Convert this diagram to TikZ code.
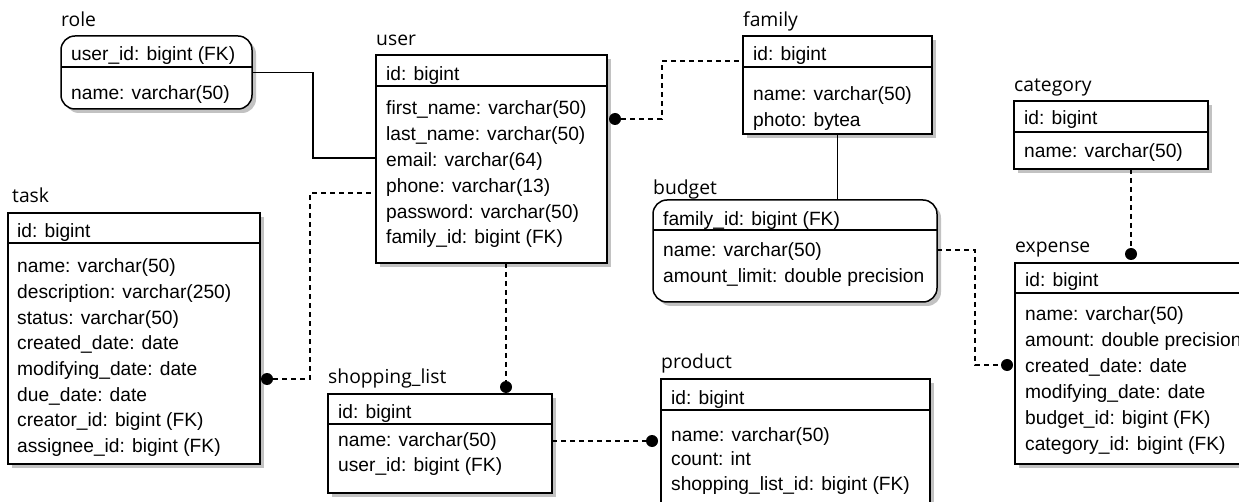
\documentclass[tikz,border=0pt]{standalone}
\usepackage{fontspec}
\setmainfont{Liberation Sans}
\newfontfamily\titlefont{Open Sans}

\tikzset{
  tbl/.style={draw, line width=1.5pt, fill=white, inner sep=0pt, outer sep=0pt,
    anchor=north west},
  rtbl/.style={rounded corners=14pt},
  shade/.style={fill=black!24},
  row/.style={anchor=base west, inner sep=0pt, font=\fontsize{19.2}{23}\selectfont},
  ttl/.style={anchor=base west, inner sep=0pt, font=\titlefont\fontsize{19.3}{23}\selectfont},
  divider/.style={line width=1.5pt},
  solidlink/.style={line width=1.6pt},
  dashlink/.style={line width=1.4pt, dash pattern=on 5pt off 4pt},
  dot/.style={circle, fill=black, inner sep=0pt, minimum size=12pt},
}

% table box with its shadow: [extra style]{name}{left}{top}{right}{divider y}{bottom}
\newcommand\erbox[7][]{%
  \fill[shade,#1] ({#3+4},{#4+4}) rectangle ({#5+4},{#7+4});
  \node[tbl,#1,minimum width=#5-#3,minimum height=#7-#4] (#2) at (#3,#4) {};
  \draw[divider] (#3,#6) -- (#5,#6);
}
% attribute lines: {name}{x}{first baseline}{line step}{list}
\newcommand\erlines[5]{%
  \foreach \t [count=\i] in {#5} {
    \node[row] (#1-\i) at ({#2},{#3+(\i-1)*#4}) {\t};
  }
}

\begin{document}
\begin{tikzpicture}[x=1pt,y=-1pt]
\useasboundingbox (0,0) rectangle (1239,502);
\fill[white] (0,0) rectangle (1239,502);
\clip (0,0) rectangle (1239,502);

% ---------- tables ----------
\erbox[rtbl]{role}{61}{36}{252}{67}{109}
\node[ttl] (role-t) at (61,27) {role};
\node[row] (role-h) at (71,61) {user\_id: bigint (FK)};
\erlines{role}{71}{100}{25.8}{name: varchar(50)}

\erbox{user}{376}{55}{607}{86}{263}
\node[ttl] (user-t) at (376,46) {user};
\node[row] (user-h) at (386,81) {id: bigint};
\erlines{user}{386}{115}{25.8}{first\_name: varchar(50),last\_name: varchar(50),email: varchar(64),phone: varchar(13),password: varchar(50),family\_id: bigint (FK)}

\erbox{family}{743}{36}{932}{67}{134}
\node[ttl] (family-t) at (743,27) {family};
\node[row] (family-h) at (753,61) {id: bigint};
\erlines{family}{753}{101}{25.3}{name: varchar(50),photo: bytea}

\erbox[rtbl]{budget}{653}{200}{937}{230}{302}
\node[ttl] (budget-t) at (653,195) {budget};
\node[row] (budget-h) at (663,226) {family\_id: bigint (FK)};
\erlines{budget}{663}{257}{26}{name: varchar(50),amount\_limit: double precision}

\erbox{category}{1014}{101}{1208}{132}{169}
\node[ttl] (category-t) at (1014,92) {category};
\node[row] (category-h) at (1024,125) {id: bigint};
\erlines{category}{1024}{158}{25.8}{name: varchar(50)}

\erbox{expense}{1015}{263}{1247}{293}{464}
\node[ttl] (expense-t) at (1015,253) {expense};
\node[row] (expense-h) at (1025,287) {id: bigint};
\erlines{expense}{1025}{321}{25.8}{name: varchar(50),amount: double precision,created\_date: date,modifying\_date: date,budget\_id: bigint (FK),category\_id: bigint (FK)}

\erbox{task}{8}{213}{260}{243}{464}
\node[ttl] (task-t) at (12,203) {task};
\node[row] (task-h) at (17,238) {id: bigint};
\erlines{task}{17}{273}{25.6}{name: varchar(50),description: varchar(250),status: varchar(50),created\_date: date,modifying\_date: date,due\_date: date,creator\_id: bigint (FK),assignee\_id: bigint (FK)}

\erbox{shop}{328}{394}{552}{424}{493}
\node[ttl] (shop-t) at (328,384) {shopping\_list};
\node[row] (shop-h) at (338,418) {id: bigint};
\erlines{shop}{338}{446}{25.2}{name: varchar(50),user\_id: bigint (FK)}

\erbox{product}{661}{379}{930}{410}{515}
\node[ttl] (product-t) at (661,369) {product};
\node[row] (product-h) at (671,404) {id: bigint};
\erlines{product}{671}{441}{24.5}{name: varchar(50),count: int,shopping\_list\_id: bigint (FK)}

% ---------- relationship ends ----------
\node[dot] (d-uf) at ([xshift=8pt,yshift=-64pt]user.north east) {};
\node[dot] (d-tu) at ([xshift=7pt,yshift=-166pt]task.north east) {};
\node[dot] (d-us) at ([xshift=-46pt,yshift=7pt]shop.north east) {};
\node[dot] (d-sp) at ([xshift=-9pt,yshift=-62pt]product.north west) {};
\node[dot] (d-be) at ([xshift=-8pt,yshift=-102pt]expense.north west) {};
\node[dot] (d-ce) at ([yshift=9pt]expense.north) {};

% ---------- relationships ----------
\draw[solidlink] (role.east) -- ++(61,0) |- ([yshift=-103pt]user.north west);
\draw[dashlink] (d-uf) -- ++(47,0) |- ([yshift=-25pt]family.north west);
\draw[dashlink] (d-tu) -- ++(43,0) |- ([yshift=-138pt]user.north west);
\draw[dashlink] (user.south -| d-us) -- (d-us);
\draw[dashlink] (shop.east |- d-sp) -- (d-sp);
\draw[solidlink] (family.south) -- (family.south |- budget.north);
\draw[dashlink] ([yshift=-50pt]budget.north east) -- ++(38,0) |- (d-be);
\draw[dashlink] (category.south -| d-ce) -- (d-ce);
\end{tikzpicture}
\end{document}
